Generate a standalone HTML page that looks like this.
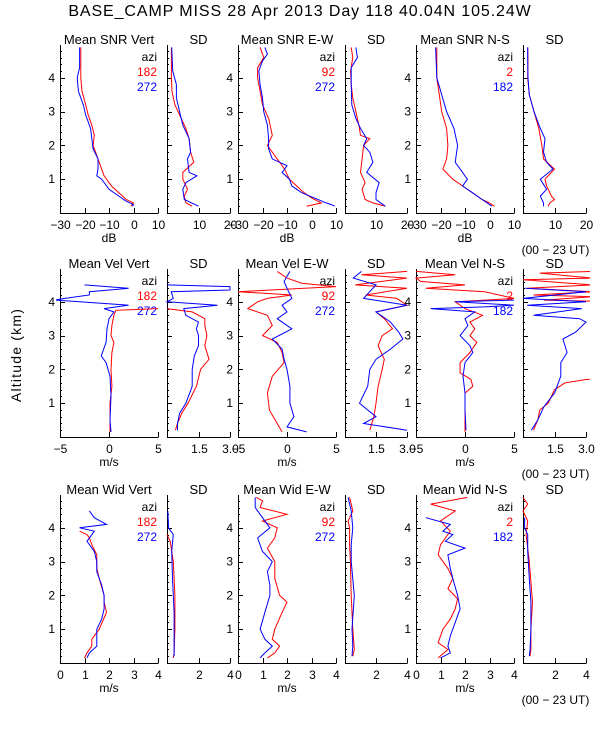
<!DOCTYPE html>
<html><head><meta charset="utf-8"><style>
html,body{margin:0;padding:0;background:#fff;}
svg{display:block;font-family:"Liberation Sans",sans-serif;}
</style></head><body>
<svg id="c" width="600" height="750" viewBox="0 0 600 750">
<text x="300" y="16" text-anchor="middle" font-size="16" letter-spacing="0.9">BASE_CAMP MISS  28 Apr 2013 Day 118 40.04N 105.24W</text>
<text transform="translate(21,355) rotate(-90)" text-anchor="middle" font-size="14" letter-spacing="1.2">Altitude (km)</text>
</svg>
<script>
// ---- data: [altitude km, value] pairs per series ----
const snrVertRed=[[4.9,-21.5],[4.5,-21.5],[4.0,-21.5],[3.6,-21],[3.2,-19.5],[2.9,-18.5],[2.6,-17],[2.3,-16],[2.0,-16.5],[1.7,-15],[1.4,-13.5],[1.1,-12],[0.8,-9],[0.6,-6],[0.4,-3],[0.3,0],[0.2,-1]];
const snrVertBlue=[[4.9,-22],[4.3,-22],[4.0,-23],[3.6,-22.5],[3.2,-20.5],[2.9,-19.5],[2.5,-17.5],[2.2,-17],[1.9,-16.5],[1.6,-14.5],[1.3,-14.5],[1.1,-15],[1.0,-13],[0.7,-10],[0.5,-6],[0.35,-3],[0.25,0],[0.2,-0.5]];
const snrVertSdRed=[[4.9,1.4],[4.0,1.4],[3.6,1.6],[3.2,2.5],[2.8,4.5],[2.5,6],[2.2,7],[1.8,7.5],[1.5,8.5],[1.2,5],[1.0,5],[0.7,6.5],[0.5,5.5],[0.3,6],[0.2,8]];
const snrVertSdBlue=[[4.9,1.5],[4.2,1.8],[3.8,3],[3.4,3],[3.0,4],[2.6,5],[2.2,7],[1.8,7.5],[1.6,6.5],[1.2,7],[1.1,9.5],[0.9,6],[0.7,5],[0.4,5.5],[0.2,10]];
const snrEwRed=[[4.9,-21],[4.6,-19.5],[4.3,-22],[4.0,-22],[3.6,-21],[3.2,-20],[2.8,-17.5],[2.3,-16],[2.0,-18],[1.6,-14],[1.3,-11],[1.0,-9],[0.8,-6],[0.6,-3],[0.45,0],[0.3,4],[0.2,-2]];
const snrEwBlue=[[4.9,-19],[4.7,-18],[4.5,-20],[4.2,-21.5],[3.8,-21],[3.4,-20],[3.0,-19.5],[2.6,-18],[2.2,-17.5],[1.9,-17.5],[1.6,-16],[1.4,-10],[1.2,-12],[1.0,-9],[0.8,-8],[0.6,-4],[0.45,1],[0.3,6],[0.25,8],[0.2,9.5]];
const snrEwSdRed=[[4.9,2],[4.6,2.5],[4.2,1.8],[3.8,2],[3.4,2.5],[3.0,3.5],[2.6,4.5],[2.3,5],[2.2,8],[2.0,6],[1.6,5.5],[1.2,5],[0.9,6.5],[0.7,5.5],[0.4,6.5],[0.3,9],[0.2,13]];
const snrEwSdBlue=[[4.9,3.5],[4.6,4],[4.3,2],[3.8,2],[3.2,2.2],[2.8,3.5],[2.5,5],[2.2,7],[2.0,6],[1.8,8],[1.5,9],[1.2,7],[0.9,11],[0.6,10],[0.4,10],[0.2,13]];
const snrNsRed=[[4.9,-21.5],[4.0,-21.5],[3.5,-20.5],[3.0,-19.5],[2.5,-17.5],[2.0,-17],[1.6,-17.5],[1.3,-19],[1.0,-15],[0.8,-11],[0.6,-7],[0.4,-3],[0.3,0],[0.2,2]];
const snrNsBlue=[[4.9,-22],[4.0,-21.5],[3.5,-19.5],[3.0,-17.5],[2.5,-14.5],[2.0,-13],[1.5,-14],[1.2,-11],[1.0,-9],[0.8,-11],[0.6,-7],[0.4,-3],[0.2,1]];
const snrNsSdRed=[[4.9,1.5],[4.5,1.6],[4.0,1.5],[3.5,2],[3.0,3.5],[2.5,5],[2.0,6],[1.6,6.5],[1.3,10],[1.0,7],[0.8,7.5],[0.5,9],[0.4,10],[0.3,8.5],[0.2,8]];
const snrNsSdBlue=[[4.9,1.5],[4.5,1.5],[4.0,1.6],[3.5,2],[3.0,3.5],[2.5,5.5],[2.2,7],[1.8,6.5],[1.5,7.5],[1.3,9.5],[1.0,5.5],[0.7,7.5],[0.5,5.5],[0.3,6.5],[0.2,6.5]];
const velVertRed=[[3.8,5],[3.75,0.7],[3.6,0.5],[3.3,0.3],[3.0,0.2],[2.8,0.5],[2.5,0.3],[2.0,0.2],[1.5,0.3],[1.0,0.1],[0.5,0.1],[0.15,0.1]];
const velVertBlue=[[4.5,-2.5],[4.4,2],[4.3,-2],[4.2,-2],[4.1,-4.5],[4.05,-5.5],[4.0,-3],[3.9,2],[3.8,-0.5],[3.7,0.5],[3.5,0],[3.2,-0.2],[2.8,-0.3],[2.4,-0.8],[2.2,-0.3],[1.8,0.1],[1.2,0.2],[0.5,0.1],[0.15,0.2]];
const velVertSdRed=[[3.8,0],[3.7,1.2],[3.5,1.8],[3.3,1.8],[3.0,1.9],[2.7,1.8],[2.3,2.0],[2.0,1.6],[1.5,1.4],[1.0,1.0],[0.7,0.7],[0.4,0.5],[0.2,0.4]];
const velVertSdBlue=[[4.5,0],[4.45,3],[4.35,3],[4.3,0.2],[4.1,0.3],[4.0,0],[3.9,2.4],[3.8,0.8],[3.6,0.9],[3.4,1.5],[3.2,1.4],[3.0,1.5],[2.7,1.5],[2.4,1.3],[2.0,1.2],[1.5,1.2],[1.0,0.9],[0.7,0.6],[0.4,0.5],[0.2,0.5]];
const velEwRed=[[4.9,-1],[4.7,0],[4.55,1.5],[4.45,5],[4.3,-5],[4.2,0.5],[4.1,-2],[4.0,-3],[3.8,-4],[3.6,-2],[3.3,-1.5],[3.0,-2.5],[2.8,-1],[2.5,-0.5],[2.2,-0.3],[1.8,-1.5],[1.3,-2],[0.8,-1.8],[0.5,-1.2],[0.15,-0.5]];
const velEwBlue=[[4.9,0.3],[4.6,-0.3],[4.4,0],[4.1,0.5],[3.9,-0.5],[3.7,0],[3.5,-1],[3.2,0.5],[2.9,-1.5],[2.6,-0.5],[2.3,-0.3],[2.0,0],[1.5,0.3],[1.0,0.3],[0.6,0.7],[0.3,0],[0.15,2]];
const velEwSdRed=[[4.9,3],[4.8,0.8],[4.7,3],[4.5,0.5],[4.4,3],[4.2,1],[4.1,2.5],[3.9,3],[3.7,1.5],[3.5,1.9],[3.2,2.3],[3.0,1.8],[2.7,1.6],[2.3,1.9],[2.0,1.8],[1.5,1.6],[1.0,1.5],[0.6,1.4],[0.2,1.2]];
const velEwSdBlue=[[4.9,0.8],[4.7,0.4],[4.5,1.5],[4.1,0.9],[3.9,3],[3.7,1.5],[3.4,2.2],[3.1,2.6],[2.9,2.8],[2.6,2.2],[2.3,1.5],[2.0,1.2],[1.5,1.1],[1.0,0.7],[0.6,1.5],[0.4,0.9],[0.2,3]];
const velNsRed=[[4.9,-5],[4.8,-1],[4.7,-5],[4.6,-4.5],[4.5,0],[4.4,-4],[4.3,2],[4.1,5],[4.0,-1],[3.8,0],[3.6,1.8],[3.4,0.5],[3.2,1],[3.0,0.5],[2.8,1.2],[2.5,0.5],[2.2,-0.5],[1.9,-0.5],[1.7,0.6],[1.5,0.8],[1.3,0],[1.0,0],[0.5,0],[0.15,0]];
const velNsBlue=[[4.05,5],[4.0,-1],[3.9,5],[3.85,2],[3.8,-3.5],[3.7,1],[3.5,0],[3.3,0.3],[3.0,-0.5],[2.7,0.5],[2.5,0.8],[2.2,0],[1.8,-0.2],[1.3,0],[0.8,0],[0.2,0.1]];
const velNsSdRed=[[4.9,3.3],[4.85,0.8],[4.7,3.3],[4.65,0],[4.5,3.3],[4.4,0.2],[4.3,3.3],[4.2,0.5],[4.15,3.3],[4.05,1],[4.0,4.5],[1.75,4.5],[1.7,3],[1.6,2],[1.4,1.5],[1.0,1.2],[0.8,0.8],[0.5,0.7],[0.2,0.5]];
const velNsSdBlue=[[4.4,0.1],[4.3,3],[4.1,0],[4.0,3],[3.9,0.2],[3.8,2.8],[3.6,0.5],[3.5,2.7],[3.4,3],[3.1,2.5],[2.9,1.9],[2.5,2.1],[2.2,1.8],[1.8,1.8],[1.3,1.5],[0.9,1.0],[0.5,0.7],[0.2,0.4]];
const widVertRed=[[3.9,0.8],[3.8,1.1],[3.7,1.2],[3.5,1.3],[3.2,1.5],[2.8,1.5],[2.5,1.6],[2.0,1.8],[1.8,1.8],[1.5,1.9],[1.0,1.6],[0.7,1.3],[0.5,1.3],[0.3,1.1],[0.15,1.0]];
const widVertBlue=[[4.5,1.2],[4.3,1.4],[4.1,1.9],[4.0,0.8],[3.9,1.4],[3.6,1.1],[3.3,1.4],[3.0,1.5],[2.7,1.5],[2.3,1.7],[2.0,1.8],[1.6,1.8],[1.3,1.7],[1.0,1.5],[0.7,1.5],[0.5,1.5],[0.3,1.2],[0.15,1.1]];
const widVertSdRed=[[3.8,0],[3.6,0.2],[3.0,0.4],[2.0,0.5],[1.0,0.5],[0.3,0.45],[0.15,0.4]];
const widVertSdBlue=[[4.5,0.05],[4.0,0.1],[3.8,0.4],[3.3,0.3],[2.5,0.35],[1.5,0.45],[1.0,0.45],[0.5,0.45],[0.2,0.45]];
const widEwRed=[[4.9,0.75],[4.8,1.0],[4.6,0.9],[4.4,2.0],[4.2,1.0],[4.0,1.6],[3.7,1.5],[3.4,1.2],[3.0,1.5],[2.5,1.5],[2.0,1.7],[1.8,2.0],[1.5,1.8],[1.0,1.5],[0.7,1.4],[0.5,1.7],[0.3,1.5],[0.15,1.2]];
const widEwBlue=[[4.9,0.7],[4.6,0.7],[4.3,1.0],[4.0,1.3],[3.7,0.8],[3.3,1.0],[3.0,1.4],[2.7,1.2],[2.3,1.3],[2.0,1.3],[1.5,1.1],[1.0,0.9],[0.7,1.1],[0.5,1.4],[0.3,1.1],[0.15,0.9]];
const widEwSdRed=[[4.9,0.3],[4.5,0.5],[4.2,0.2],[4.0,0.3],[3.5,0.3],[3.0,0.35],[2.0,0.4],[1.0,0.5],[0.4,0.6],[0.2,0.5]];
const widEwSdBlue=[[4.9,0.2],[4.5,0.4],[4.0,0.5],[3.5,0.4],[3.0,0.4],[2.0,0.6],[1.0,0.45],[0.5,0.5],[0.2,0.45]];
const widNsRed=[[4.9,2.1],[4.7,0.6],[4.5,1.6],[4.2,1.0],[3.9,1.4],[3.5,1.0],[3.2,0.9],[2.8,1.3],[2.5,1.5],[2.2,1.3],[1.9,1.7],[1.6,1.6],[1.3,1.4],[1.0,1.1],[0.6,0.9],[0.4,1.3],[0.15,0.9]];
const widNsBlue=[[4.3,0.4],[4.1,1.4],[3.9,1.1],[3.8,1.5],[3.6,1.2],[3.4,2.0],[3.2,1.3],[2.8,1.4],[2.5,1.5],[2.0,1.7],[1.6,1.8],[1.2,1.6],[0.8,1.4],[0.5,1.3],[0.3,1.4],[0.15,1.0]];
const widNsSdRed=[[4.9,0],[4.7,0.3],[4.5,0],[4.2,0.3],[3.8,0.2],[3.4,0.3],[3.0,0.4],[2.4,0.5],[1.8,0.6],[1.0,0.5],[0.4,0.5],[0.2,0.45]];
const widNsSdBlue=[[4.3,0.1],[4.0,0.1],[3.8,0.3],[3.3,0.3],[2.5,0.4],[1.8,0.5],[1.0,0.5],[0.4,0.45],[0.2,0.4]];

const meanTitles=[["Mean SNR Vert","Mean SNR E-W","Mean SNR N-S"],["Mean Vel Vert","Mean Vel E-W","Mean Vel N-S"],["Mean Wid Vert","Mean Wid E-W","Mean Wid N-S"]];
const aziA=["182","92","2"];
const aziB=["272","272","182"];
const meanTicks=[[-30,-20,-10,0,10],[-5,0,5],[0,1,2,3,4]];
const sdTicks=[[10,20],[1.5,3.0],[2,4]];
const sdTickLabels=[["10","20"],["1.5","3.0"],["2","4"]];
const units=["dB","m/s","m/s"];
const altTicks=[1,2,3,4];

const svg=document.getElementById('c');
const NS='http://www.w3.org/2000/svg';
function mk(tag,attrs,parent){const e=document.createElementNS(NS,tag);for(const k in attrs)e.setAttribute(k,attrs[k]);(parent||svg).appendChild(e);return e;}
function txt(x,y,s,size,anchor,fill){const t=mk('text',{x:x,y:y,'font-size':size,'text-anchor':anchor||'middle',fill:fill||'#000'});t.textContent=s;return t;}

const rowZero=[213,437,663];
const kmPx=33.8;
const colX=[[60,158],[167,230],[238,336],[345,407],[416,514],[523,586]];
const meanRange=[[-30,10],[-5,5],[0,4]];
const sdRange=[[0,20],[0,3],[0,4]];
const series=[
 [[snrVertRed,snrVertBlue],[snrVertSdRed,snrVertSdBlue],[snrEwRed,snrEwBlue],[snrEwSdRed,snrEwSdBlue],[snrNsRed,snrNsBlue],[snrNsSdRed,snrNsSdBlue]],
 [[velVertRed,velVertBlue],[velVertSdRed,velVertSdBlue],[velEwRed,velEwBlue],[velEwSdRed,velEwSdBlue],[velNsRed,velNsBlue],[velNsSdRed,velNsSdBlue]],
 [[widVertRed,widVertBlue],[widVertSdRed,widVertSdBlue],[widEwRed,widEwBlue],[widEwSdRed,widEwSdBlue],[widNsRed,widNsBlue],[widNsSdRed,widNsSdBlue]]
];
let cid=0;
for(let r=0;r<3;r++){
  const y0=rowZero[r], yTop=y0-5*kmPx+1;
  const yS=a=>y0-a*kmPx;
  for(let c=0;c<6;c++){
    const isSd=c%2===1;
    const [xl,xr]=colX[c];
    const rng=isSd?sdRange[r]:meanRange[r];
    const xS=v=>xl+(v-rng[0])/(rng[1]-rng[0])*(xr-xl);
    const g=mk('g',{});
    
    
    const clip=mk('clipPath',{id:'cp'+(++cid)},g);
    mk('rect',{x:xl-4,y:yTop-2,width:xr-xl+8,height:y0-yTop+2},clip);
    const ya=mk('line',{x1:xl+0.5,y1:yTop,x2:xl+0.5,y2:y0+0.5,stroke:'#000','stroke-width':1},g);
    
    
    const xa=mk('line',{x1:xl,y1:y0+0.5,x2:xr+0.5,y2:y0+0.5,stroke:'#000','stroke-width':1},g);
    
    
    for(let k=0;k<=24;k++){const yy=Math.round(yS(k*0.2))+0.5;if(yy<yTop)continue;mk('line',{x1:xl,y1:yy,x2:xl+(k%5===0?5:2),y2:yy,stroke:'#000'},g);}
    const ticks=isSd?sdTicks[r]:meanTicks[r];
    const tl=isSd?sdTickLabels[r]:meanTicks[r].map(v=>v<0?'\u2212'+(-v):String(v));
    ticks.forEach((v,i)=>{const xx=Math.round(xS(v))+0.5;mk('line',{x1:xx,y1:y0,x2:xx,y2:y0-5,stroke:'#000'},g);
      const t=txt(xx,y0+16,tl[i],12,'middle');g.appendChild(t);});
    if(!isSd){
      altTicks.forEach(a=>{const t=txt(xl-5,yS(a)+4,String(a),12,'end');g.appendChild(t);});
      const ti=txt((xl+xr)/2,y0-169,meanTitles[r][c/2],13,'middle');g.appendChild(ti);
      const u=txt((xl+xr)/2,y0+29,units[r],12,'middle');g.appendChild(u);
      const l0=txt(xr-1,yTop+16,'azi',12,'end');g.appendChild(l0);
      const l1=txt(xr-1,yTop+31,aziA[c/2],12,'end','#ff0000');g.appendChild(l1);
      const l2=txt(xr-1,yTop+46,aziB[c/2],12,'end','#0000ff');g.appendChild(l2);
    } else {
      const ti=txt((xl+xr)/2,y0-169,'SD',13,'middle');g.appendChild(ti);
      if(c===5){const u=txt((xl+xr)/2+1,y0+41,'(00 \u2212 23 UT)',12,'middle');g.appendChild(u);}
    }
    const colors=['#ff0000','#0000ff'];
    series[r][c].forEach((pts,si)=>{
      const d=pts.map((p,i)=>(i?'L':'M')+xS(p[1]).toFixed(1)+' '+yS(p[0]).toFixed(1)).join(' ');
      const p=mk('path',{d:d,fill:'none',stroke:colors[si],'stroke-width':1,'clip-path':'url(#cp'+cid+')'},g);
      
      
    });
  }
}
</script>
</body></html>
